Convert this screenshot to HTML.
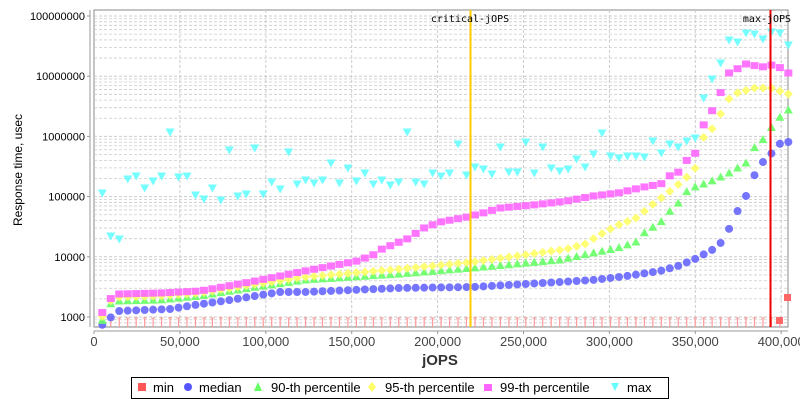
<!DOCTYPE html>
<html><head><meta charset="utf-8"><style>
body{margin:0;background:#fff;width:800px;height:400px;overflow:hidden;font-family:"Liberation Sans",sans-serif}
</style></head><body>
<svg id="s" width="800" height="400" xmlns="http://www.w3.org/2000/svg" font-family="Liberation Sans, sans-serif"></svg>
<script>
const s=document.getElementById('s');let h='';
const L=94,R=788,T=10,B=327;
const xp=v=>L+v*85.9/50000;
const yp=v=>16+(8-Math.log10(v))*60.2;
h+=`<rect x="${L}" y="${T}" width="${R-L}" height="${B-T}" fill="#fff" stroke="#888"/>`;
for(let e=2;e<=8;e++)for(let m=1;m<10;m++){const y=yp(m*Math.pow(10,e));if(y<T||y>B)continue;h+=`<line x1="${L}" x2="${R}" y1="${y}" y2="${y}" stroke="#ccc" stroke-dasharray="3,2" stroke-width="${m==1?1:0.8}"/>`;}
for(let v=50000;v<=400000;v+=50000){const x=xp(v);h+=`<line x1="${x}" x2="${x}" y1="${T}" y2="${B}" stroke="#ccc" stroke-dasharray="3,2"/>`;}
h+=`<line x1="90" x2="90" y1="${T}" y2="${B}" stroke="#999"/><line x1="${L}" x2="${R}" y1="331" y2="331" stroke="#999"/>`;
['100000000','10000000','1000000','100000','10000','1000'].forEach((t,i)=>{const y=16+i*60.2;h+=`<text x="85" y="${y+4}" font-size="11" text-anchor="end">${t}</text><line x1="87" x2="90" y1="${y}" y2="${y}" stroke="#999"/>`;});
['0','50,000','100,000','150,000','200,000','250,000','300,000','350,000','400,000'].forEach((t,i)=>{const x=xp(i*50000);h+=`<text x="${x}" y="346" font-size="13" fill="#444" text-anchor="middle">${t}</text><line x1="${x}" x2="${x}" y1="331" y2="334" stroke="#999"/>`;});
h+=`<text x="440" y="365" font-size="15" font-weight="bold" fill="#333" text-anchor="middle">jOPS</text>`;
h+=`<text transform="translate(22,170) rotate(-90)" font-size="12" text-anchor="middle">Response time, usec</text>`;
function interp(p,x){if(x<=p[0][0])return p[0][1];for(let i=0;i<p.length-1;i++){if(x<=p[i+1][0]){const[a,b]=p[i],[c,d]=p[i+1];return b+(d-b)*(x-a)/(c-a);}}return p[p.length-1][1];}
const xs=[];for(let k=0;k<=81;k++)xs.push(102.3+k*8.47);
xs.forEach(x=>{if(x<R)h+=`<line x1="${x}" x2="${x}" y1="318" y2="327" stroke="#f99" stroke-width="1.2"/><line x1="${x-2}" x2="${x+2}" y1="318" y2="318" stroke="#f99"/>`;});
const med=[[102,325],[110,318],[119,311],[170,309],[195,305],[230,300],[280,292],[305,292],[400,288],[473,287],[560,282],[593,280],[627,276],[660,271],[678,266],[695,259],[712,250],[720,244],[729,229],[737,212],[746,196],[754,176],[762,163],[771,154],[779,144],[788,142]];
const p90=[[102,321],[110,304],[119,301],[160,300],[200,296],[250,288],[305,280],[400,274],[473,268],[560,260],[593,253],[618,248],[636,242],[644,233],[661,222],[669,212],[677,205],[686,192],[695,187],[712,181],[729,173],[746,163],[754,148],[762,141],[771,128],[779,118],[788,110]];
const p95=[[102,317],[110,301],[119,297],[160,296],[200,293],[250,285],[305,277],[400,269],[473,262],[567,249],[585,244],[601,234],[618,225],[636,218],[652,205],[669,192],[686,178],[695,169],[703,138],[712,129],[720,115],[729,99],[737,93],[754,88],[771,88],[788,94]];
const p99=[[102,313],[110,299],[119,294],[160,293],[200,291],[250,282],[305,271],[357,261],[373,255],[382,249],[407,239],[424,228],[440,222],[467,217],[483,213],[500,208],[533,205],[567,201],[593,196],[618,193],[644,187],[661,184],[669,176],[677,174],[686,161],[695,154],[703,126],[712,111],[720,94],[729,73],[737,69],[746,64],[762,67],[771,65],[779,67],[788,73]];
const mxv=[193,236,239,179,176,188,181,176,132,177,176,195,199,188,200,150,196,194,148,194,182,189,152,184,180,
183,180,163,183,168,181,173,184,180,185,182,132,182,184,173,176,173,144,175,167,169,174,147,172,172,142,173,147,168,171,169,
159,167,154,133,156,158,156,156,157,141,153,144,147,141,138,98,79,63,40,42,33,34,39,32,33,45];
xs.forEach((x,i)=>{if(x>R+2)return;
 let y=interp(med,x);h+=`<circle cx="${x}" cy="${y}" r="4" fill="#66f" fill-opacity=".9"/>`;
 y=interp(p90,x);h+=`<polygon points="${x},${y-4.5} ${x-4.5},${y+3.5} ${x+4.5},${y+3.5}" fill="#6f6" fill-opacity=".9"/>`;
 y=interp(p95,x);h+=`<polygon points="${x},${y-4.5} ${x-4.5},${y} ${x},${y+4.5} ${x+4.5},${y}" fill="#ff6" fill-opacity=".9"/>`;
 y=interp(p99,x);h+=`<rect x="${x-4}" y="${y-3.5}" width="8" height="7" fill="#f6f" fill-opacity=".9"/>`;
 y=mxv[i];if(y!==undefined)h+=`<polygon points="${x-4.5},${y-3.5} ${x+4.5},${y-3.5} ${x},${y+4.5}" fill="#6ff" fill-opacity=".9"/>`;
});
h+=`<rect x="776" y="317" width="7" height="7" fill="#f66"/><rect x="784" y="294" width="7" height="7" fill="#f66"/>`;
h+=`<line x1="470.5" x2="470.5" y1="${T}" y2="${B}" stroke="#fc0" stroke-width="2"/><text x="470" y="22" font-size="10" font-family="DejaVu Sans Mono,monospace" text-anchor="middle">critical-jOPS</text>`;
h+=`<line x1="770.5" x2="770.5" y1="${T}" y2="${B}" stroke="#e00" stroke-width="2"/><text x="767" y="22" font-size="10" font-family="DejaVu Sans Mono,monospace" text-anchor="middle">max-jOPS</text>`;
h+=`<rect x="131.5" y="377.5" width="537" height="21" fill="#fff" stroke="#000"/>`;
h+=`<rect x="138" y="383" width="8" height="8" fill="#f55"/><text x="153" y="392" font-size="13">min</text>`;
h+=`<circle cx="188" cy="387" r="4" fill="#55f"/><text x="199" y="392" font-size="13">median</text>`;
h+=`<polygon points="258,382 254,391 262,391" fill="#6f6"/><text x="271" y="392" font-size="13">90-th percentile</text>`;
h+=`<polygon points="372,382 368,387 372,392 376,387" fill="#ff6"/><text x="385" y="392" font-size="13">95-th percentile</text>`;
h+=`<rect x="484" y="384" width="8" height="7" fill="#f6f"/><text x="500" y="392" font-size="13">99-th percentile</text>`;
h+=`<polygon points="611,383 619,383 615,391" fill="#6ff"/><text x="627" y="392" font-size="13">max</text>`;
s.innerHTML=h;
</script>
</body></html>
